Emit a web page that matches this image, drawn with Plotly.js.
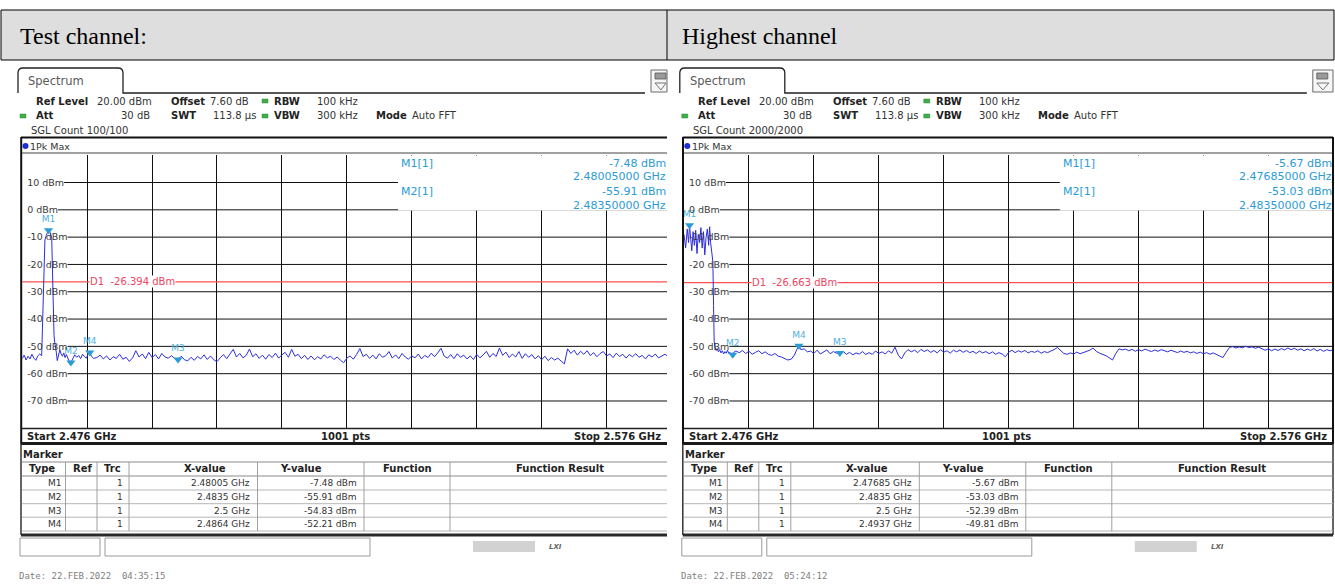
<!DOCTYPE html>
<html><head><meta charset="utf-8">
<script src="https://cdn.plot.ly/plotly-3.0.1.min.js"></script>
<style>html,body{margin:0;padding:0;background:#fff;overflow:hidden}#chart{width:1335px;height:585px}</style>
</head><body><div id="chart"></div>
<script>
const W = 1335, H = 585;
const FONT = 'DejaVu Sans, Verdana, sans-serif';
const MONO = 'DejaVu Sans Mono, monospace';
const SERIF = 'Liberation Serif, Times New Roman, serif';

// ---------- texts / settings ----------
const headerTitles = ["Test channel:", "Highest channel"];
const refLevel = "20.00 dBm", offsetDb = "7.60 dB", rbw = "100 kHz", vbw = "300 kHz";
const att = "30 dB", swt = "113.8 µs", sweepMode = "Auto FFT";
const sglCounts = ["100/100", "2000/2000"];
const startGHz = 2.476, stopGHz = 2.576, sweepPts = 1001;
const yTicks = [10, 0, -10, -20, -30, -40, -50, -60, -70];
const yRange = [-80, 20];
const xGridGHz = [2.486, 2.496, 2.506, 2.516, 2.526, 2.536, 2.546, 2.556, 2.566];
const d1Levels = [-26.394, -26.663];
const dates = ["Date: 22.FEB.2022\u00a0\u00a004:35:15", "Date: 22.FEB.2022\u00a0\u00a005:24:12"];
const tableHeaders = ["Type", "Ref", "Trc", "X-value", "Y-value", "Function", "Function Result"];

// ---------- markers ----------
const markerNames = ["M1", "M2", "M3", "M4"];
const leftMarkerGHz = [2.48005, 2.4835, 2.5, 2.4864];
const leftMarkerDbm = [-7.48, -55.91, -54.83, -52.21];
const rightMarkerGHz = [2.47685, 2.4835, 2.5, 2.4937];
const rightMarkerDbm = [-5.67, -53.03, -52.39, -49.81];

// ---------- trace: Test channel (left) ----------
const leftPeakMHz = [2476.0,2476.3,2476.6,2476.9,2477.2,2477.5,2477.8,2478.1,2478.4,2478.7,2479.0,2479.1,2479.2,2479.35,2479.5,2479.7,2479.9,2480.05,2480.2,2480.4,2480.55,2480.65,2480.72,2480.8,2480.9,2481.0,2481.1,2481.25,2481.4,2481.6,2481.8,2482.0,2482.2,2482.4,2482.6,2482.8,2483.0,2483.2,2483.5,2483.8,2484.1,2484.4,2484.7,2485.0,2485.3,2485.6,2485.9,2486.1,2486.4,2486.7,2487.0];
const leftPeakDbm = [-54.5,-53.2,-55.0,-53.6,-54.6,-52.9,-54.3,-55.1,-53.5,-52.8,-53.4,-45.0,-30.0,-16.0,-11.0,-9.4,-8.1,-7.48,-7.9,-9.0,-10.6,-20.0,-35.0,-44.6,-46.0,-48.4,-49.6,-52.1,-55.2,-53.4,-51.3,-52.8,-53.6,-52.4,-54.1,-53.0,-54.6,-55.3,-55.91,-54.2,-53.1,-54.0,-53.3,-54.5,-52.9,-53.8,-54.3,-53.0,-52.21,-53.7,-54.4];
const leftFloorMHz = [2487.5,2488,2488.5,2489,2489.5,2490,2490.5,2491,2491.5,2492,
2492.5,2493,2493.5,2494,2494.5,2495,2495.5,2496,2496.5,2497,
2497.5,2498,2498.5,2499,2499.5,2500,2500.5,2501,2501.5,2502,
2502.5,2503,2503.5,2504,2504.5,2505,2505.5,2506,2506.5,2507,
2507.5,2508,2508.5,2509,2509.5,2510,2510.5,2511,2511.5,2512,
2512.5,2513,2513.5,2514,2514.5,2515,2515.5,2516,2516.5,2517,
2517.5,2518,2518.5,2519,2519.5,2520,2520.5,2521,2521.5,2522,
2522.5,2523,2523.5,2524,2524.5,2525,2525.5,2526,2526.5,2527,
2527.5,2528,2528.5,2529,2529.5,2530,2530.5,2531,2531.5,2532,
2532.5,2533,2533.5,2534,2534.5,2535,2535.5,2536,2536.5,2537,
2537.5,2538,2538.5,2539,2539.5,2540,2540.5,2541,2541.5,2542,
2542.5,2543,2543.5,2544,2544.5,2545,2545.5,2546,2546.5,2547,
2547.5,2548,2548.5,2549,2549.5,2550,2550.5,2551,2551.5,2552,
2552.5,2553,2553.5,2554,2554.5,2555,2555.5,2556,2556.5,2557,
2557.5,2558,2558.5,2559,2559.5,2560,2560.5,2561,2561.5,2562,
2562.5,2563,2563.5,2564,2564.5,2565,2565.5,2566,2566.5,2567,
2567.5,2568,2568.5,2569,2569.5,2570,2570.5,2571,2571.5,2572,
2572.5,2573,2573.5,2574,2574.5,2575,2575.5,2576];
const leftFloorDbm = [-54.1,-53.2,-54.6,-53.5,-55.0,-53.8,-54.4,-52.9,-54.7,-54.0,
-55.5,-54.2,-51.6,-53.9,-52.8,-54.5,-52.2,-54.1,-53.0,-54.6,
-52.6,-53.9,-54.3,-53.4,-54.5,-54.83,-53.6,-54.9,-55.3,-54.0,
-55.1,-53.7,-54.6,-53.1,-54.8,-53.5,-54.9,-55.6,-54.2,-53.0,
-54.5,-52.8,-51.1,-53.9,-52.6,-54.2,-53.3,-51.0,-53.8,-52.7,
-54.4,-53.2,-54.7,-53.0,-54.1,-52.5,-54.3,-53.1,-52.2,-54.0,
-51.1,-53.6,-52.9,-54.5,-53.3,-54.8,-53.5,-54.9,-53.8,-54.6,
-53.1,-54.2,-53.6,-54.8,-53.9,-55.0,-56.0,-54.3,-53.5,-54.7,
-53.0,-50.8,-53.7,-52.9,-54.4,-53.2,-54.6,-52.7,-54.0,-53.4,
-51.9,-54.3,-53.1,-54.5,-52.6,-53.9,-54.7,-53.5,-54.2,-52.8,
-54.6,-53.3,-54.1,-52.5,-53.8,-52.4,-50.7,-53.6,-54.3,-53.0,
-54.5,-52.7,-54.0,-53.2,-54.6,-53.5,-54.8,-52.9,-54.2,-53.1,
-51.8,-54.0,-52.6,-53.7,-50.6,-53.3,-52.1,-54.1,-52.8,-53.9,
-51.9,-54.4,-52.7,-54.0,-53.0,-54.6,-53.4,-54.9,-53.6,-55.2,
-54.1,-55.0,-54.3,-55.4,-56.4,-50.9,-52.6,-51.4,-53.2,-51.8,
-52.9,-51.6,-53.4,-52.3,-53.8,-52.6,-51.9,-53.5,-52.8,-54.1,
-52.5,-53.7,-52.9,-54.3,-53.0,-53.8,-52.7,-54.0,-53.3,-54.6,
-53.1,-53.9,-52.8,-54.2,-53.5,-52.9,-53.7,-53.4];

// ---------- trace: Highest channel (right) ----------
const rightPeakMHz = [2476.0,2476.25,2476.5,2476.7,2476.85,2477.0,2477.2,2477.4,2477.6,2477.8,2478.0,2478.2,2478.4,2478.6,2478.8,2479.0,2479.2,2479.4,2479.6,2479.8,2479.95,2480.1,2480.3,2480.45,2480.55,2480.65,2480.8,2480.95,2481.1,2481.3,2481.5,2481.7,2481.9,2482.1,2482.3,2482.5,2482.7,2482.9,2483.1,2483.3,2483.5,2483.7,2484.0,2484.5,2485.0,2485.5,2486.0,2486.5,2487.0,2487.5,2488.0,2488.5,2489.0,2489.5,2490.0,2490.5,2491.0,2491.5,2492.0,2492.5,2493.0,2493.4,2493.7,2494.0,2494.5,2495.0];
const rightPeakDbm = [-9.0,-14.0,-7.0,-12.0,-5.67,-10.0,-15.0,-8.0,-13.0,-7.5,-16.0,-9.0,-12.0,-6.5,-14.0,-8.0,-16.5,-10.0,-7.0,-13.0,-6.2,-12.0,-17.0,-19.0,-35.0,-48.3,-50.5,-51.5,-50.8,-52.0,-51.2,-52.4,-51.6,-52.8,-51.9,-52.5,-51.4,-52.6,-52.2,-52.9,-53.03,-52.1,-51.7,-52.3,-51.5,-52.6,-51.8,-52.9,-52.2,-51.6,-52.7,-52.0,-52.9,-53.3,-52.6,-53.6,-53.9,-54.4,-55.0,-54.7,-53.2,-51.0,-49.81,-51.2,-50.9,-52.0];
const rightFloorMHz = [2495.5,2496,2496.5,2497,2497.5,2498,2498.5,2499,2499.5,2500,
2500.5,2501,2501.5,2502,2502.5,2503,2503.5,2504,2504.5,2505,
2505.5,2506,2506.5,2507,2507.5,2508,2508.5,2509,2509.5,2510,
2510.5,2511,2511.5,2512,2512.5,2513,2513.5,2514,2514.5,2515,
2515.5,2516,2516.5,2517,2517.5,2518,2518.5,2519,2519.5,2520,
2520.5,2521,2521.5,2522,2522.5,2523,2523.5,2524,2524.5,2525,
2525.5,2526,2526.5,2527,2527.5,2528,2528.5,2529,2529.5,2530,
2530.5,2531,2531.5,2532,2532.5,2533,2533.5,2534,2534.5,2535,
2535.5,2536,2536.5,2537,2537.5,2538,2538.5,2539,2539.5,2540,
2540.5,2541,2541.5,2542,2542.5,2543,2543.5,2544,2544.5,2545,
2545.5,2546,2546.5,2547,2547.5,2548,2548.5,2549,2549.5,2550,
2550.5,2551,2551.5,2552,2552.5,2553,2553.5,2554,2554.5,2555,
2555.5,2556,2556.5,2557,2557.5,2558,2558.5,2559,2559.5,2560,
2560.5,2561,2561.5,2562,2562.5,2563,2563.5,2564,2564.5,2565,
2565.5,2566,2566.5,2567,2567.5,2568,2568.5,2569,2569.5,2570,
2570.5,2571,2571.5,2572,2572.5,2573,2573.5,2574,2574.5,2575,
2575.5,2576];
const rightFloorDbm = [-51.7,-52.6,-51.4,-52.8,-52.1,-51.3,-52.7,-51.9,-52.5,-52.39,
-51.8,-52.9,-52.2,-53.1,-52.4,-52.8,-51.9,-53.0,-52.3,-52.9,
-51.7,-52.6,-52.0,-52.8,-51.6,-52.5,-50.3,-53.2,-54.6,-52.4,
-51.2,-52.0,-51.4,-52.3,-51.1,-51.9,-51.3,-52.2,-51.5,-52.4,
-51.2,-52.1,-51.6,-52.5,-51.4,-52.0,-51.3,-52.2,-51.5,-52.3,
-51.8,-52.6,-51.7,-52.4,-51.9,-52.7,-52.0,-52.9,-52.3,-52.8,
-53.8,-52.2,-51.4,-52.3,-51.6,-52.1,-51.5,-52.4,-51.8,-52.2,
-51.6,-52.5,-51.9,-52.3,-51.7,-51.2,-50.4,-51.6,-52.6,-52.9,
-52.4,-52.8,-52.1,-52.7,-52.3,-51.9,-51.4,-50.6,-51.8,-52.5,
-52.9,-53.4,-54.2,-55.0,-52.6,-50.9,-51.3,-51.0,-51.6,-51.1,
-51.8,-51.2,-51.7,-51.0,-51.5,-51.9,-51.3,-51.8,-51.2,-51.6,
-52.0,-51.4,-51.9,-52.3,-51.7,-52.2,-51.8,-52.4,-52.0,-52.6,
-52.1,-52.7,-52.3,-52.9,-52.4,-53.0,-53.4,-54.1,-52.2,-50.4,
-50.1,-50.6,-50.2,-50.5,-50.0,-50.4,-50.2,-50.7,-50.3,-51.0,
-51.4,-50.9,-51.6,-51.0,-51.5,-50.8,-51.3,-50.6,-51.2,-50.7,
-51.4,-50.9,-51.6,-51.0,-51.5,-50.8,-51.7,-51.1,-51.8,-51.2,
-51.6,-51.3];

// ---------- helpers ----------
const px = x => x / W, py = y => 1 - y / H;
const shapes = [], annotations = [];
const ctx = document.createElement('canvas').getContext('2d');
function textW(t, size) { ctx.font = size + 'px "DejaVu Sans"'; return ctx.measureText(t).width; }
function T(x, y, text, size, color, anchor, family, extra) {
  annotations.push(Object.assign({xref: 'paper', yref: 'paper', x: px(x), y: py(y), text: text, showarrow: false,
    xanchor: anchor || 'left', yanchor: 'middle', borderpad: 0,
    font: {family: family || FONT, size: size || 10, color: color || '#222'}}, extra || {}));
}
function R(x0, y0, x1, y1, fill, lc, lw, extra) {
  shapes.push(Object.assign({type: 'rect', xref: 'paper', yref: 'paper', x0: px(x0), x1: px(x1), y0: py(y1), y1: py(y0),
    fillcolor: fill || 'rgba(0,0,0,0)', line: {color: lc || 'rgba(0,0,0,0)', width: lw || 0}, layer: 'above'}, extra || {}));
}
function L(x0, y0, x1, y1, color, w, extra) {
  shapes.push(Object.assign({type: 'line', xref: 'paper', yref: 'paper', x0: px(x0), x1: px(x1), y0: py(y0), y1: py(y1),
    line: {color: color, width: w}, layer: 'above'}, extra || {}));
}
function Path(cmds, color, w, fill) {
  const d = cmds.map(c => c[0] + (c.length > 1 ? px(c[1]) + ',' + py(c[2]) : '')).join(' ');
  shapes.push({type: 'path', xref: 'paper', yref: 'paper', path: d, line: {color: color, width: w}, fillcolor: fill || 'rgba(0,0,0,0)', layer: 'above'});
}

const fullSpanPx = 649.3;
const panels = [
  {dx: 0, plotL: 22.2, visR: 667, edge: 667, xa: 'x', ya: 'y', mGHz: leftMarkerGHz, mDbm: leftMarkerDbm,
   peakMHz: leftPeakMHz, peakDbm: leftPeakDbm, floorMHz: leftFloorMHz, floorDbm: leftFloorDbm},
  {dx: 661.8, plotL: 684, visR: 1333.3, edge: 1333, xa: 'x2', ya: 'y2', mGHz: rightMarkerGHz, mDbm: rightMarkerDbm,
   peakMHz: rightPeakMHz, peakDbm: rightPeakDbm, floorMHz: rightFloorMHz, floorDbm: rightFloorDbm}
];

// header table
R(1, 10, 1334, 60, '#dedede', '#000', 1, {layer: 'below'});
L(667, 10, 667, 60, '#000', 1);

const BLUE_M = '#2a9bd6';
const traces = [];
const layout = {width: W, height: H, margin: {l: 0, r: 0, t: 0, b: 0, pad: 0}, paper_bgcolor: '#fff', plot_bgcolor: '#fff',
  showlegend: false, shapes: shapes, annotations: annotations, hovermode: false};

panels.forEach((p, i) => {
  const d = p.dx, E = p.edge;
  const visMax = startGHz + (stopGHz - startGHz) * (p.visR - p.plotL) / fullSpanPx;
  const sfx = i === 0 ? '' : '2';
  layout['xaxis' + sfx] = {domain: [px(p.plotL), px(p.visR)], range: [startGHz, visMax], anchor: p.ya,
    tickvals: xGridGHz, showticklabels: false, ticks: '', showgrid: true, gridcolor: '#111', gridwidth: 1,
    zeroline: false, showline: false, fixedrange: true};
  layout['yaxis' + sfx] = {domain: [py(428.3), py(155.2)], range: yRange, anchor: p.xa,
    tickvals: yTicks, ticktext: yTicks.map(v => v + ' dBm'), ticklabelposition: 'inside', ticks: '',
    ticklabelstandoff: 2, showgrid: false, zeroline: false, showline: false, fixedrange: true,
    tickfont: {family: FONT, size: 9.5, color: '#3a3a3a'}};

  // horizontal grid lines starting after the level labels
  yTicks.forEach(v => {
    const x0 = p.plotL + 5 + textW(v + ' dBm', 9.5);
    shapes.push({type: 'line', xref: 'paper', yref: p.ya, x0: px(x0), x1: px(p.visR), y0: v, y1: v,
      line: {color: '#111', width: 1}, layer: 'below'});
  });

  // D1 display line (drawn as a line over the sweep span, above the grid)
  traces.push({x: [startGHz, stopGHz], y: [d1Levels[i], d1Levels[i]], type: 'scatter', mode: 'lines',
    xaxis: p.xa, yaxis: p.ya, line: {color: '#ff5050', width: 1.2}, hoverinfo: 'skip'});
  // trace
  const fx = p.peakMHz.concat(p.floorMHz).map(m => m / 1000);
  const fy = p.peakDbm.concat(p.floorDbm);
  traces.push({x: fx, y: fy, type: 'scatter', mode: 'lines', xaxis: p.xa, yaxis: p.ya,
    line: {color: '#2d2de0', width: 1}, hoverinfo: 'skip'});
  traces.push({x: p.mGHz, y: p.mDbm, type: 'scatter', mode: 'markers+text', xaxis: p.xa, yaxis: p.ya,
    text: markerNames, textposition: 'top center', cliponaxis: false,
    marker: {symbol: 'triangle-down', size: 8, color: BLUE_M},
    textfont: {family: FONT, size: 9, color: '#4fb0e0'}, hoverinfo: 'skip'});

  annotations.push({xref: p.xa, yref: p.ya, x: xGridGHz[0] + 0.0003, y: d1Levels[i], xanchor: 'left', yanchor: 'middle',
    text: 'D1\u00a0\u00a0' + d1Levels[i].toFixed(3) + ' dBm', showarrow: false, bgcolor: '#fff', borderpad: 0,
    font: {family: FONT, size: 10, color: '#f0455f'}});

  // header title
  T(19 + d, 36, headerTitles[i], 24, '#000', 'left', SERIF);

  // tab
  Path([['M', 18 + d, 93], ['L', 18 + d, 73], ['Q', 18 + d, 68], ['', 23 + d, 68], ['L', 118 + d, 68], ['Q', 123 + d, 68], ['', 123 + d, 73], ['L', 123 + d, 93], ['L', 645 + d, 93]], '#222', 1.3);
  T(27 + d, 81, 'Spectrum', 11.5, '#5a5a5a');
  // icon
  const ix1 = Math.min(672 + d, E);
  R(651 + d, 70, ix1, 92, '#f6f6f6', '#6a6a6a', 1);
  R(655 + d, 73, Math.min(666 + d, E - 1), 79, '#9a9a9a', '#555', 0.8);
  Path([['M', 655 + d, 83], ['L', Math.min(667 + d, E - 1), 83], ['L', 661 + d, 90], ['Z']], '#555', 0.8);

  // settings text
  T(35 + d, 101, '<b>Ref Level</b>', 10); T(96 + d, 101, refLevel, 10, '#333');
  T(170 + d, 101, '<b>Offset</b>', 10); T(209 + d, 101, offsetDb, 10, '#333');
  T(273 + d, 101, '<b>RBW</b>', 10); T(316 + d, 101, rbw, 10, '#333');
  T(35 + d, 116, '<b>Att</b>', 10); T(151 + d, 116, att, 10, '#333', 'right');
  T(170 + d, 116, '<b>SWT</b>', 10); T(212 + d, 116, swt, 10, '#333');
  T(273 + d, 116, '<b>VBW</b>', 10); T(316 + d, 116, vbw, 10, '#333');
  T(375 + d, 116, '<b>Mode</b>', 10); T(411 + d, 116, sweepMode, 10, '#333');
  T(30 + d, 130, 'SGL Count ' + sglCounts[i], 10, '#333');
  [[265, 101], [23, 116], [265, 116]].forEach(g => R(g[0] - 3 + d, g[1] - 2, g[0] + 3 + d, g[1] + 2, '#3fae49', '#2e8a38', 0.5));

  // diagram frame
  L(21.2 + d, 137, 21.2 + d, 444, '#111', 2);
  L(21 + d, 137.5, E, 137.5, '#111', 2);
  L(22 + d, 153, E, 153, '#444', 1);
  shapes.push({type: 'circle', xref: 'paper', yref: 'paper', x0: px(22.5 + d), x1: px(28.5 + d), y0: py(149), y1: py(143),
    fillcolor: '#1b2fd6', line: {width: 0}, layer: 'above'});
  T(29 + d, 146, '1Pk Max', 9.5, '#333');
  L(22 + d, 428.5, E, 428.5, '#222', 1.5);
  L(21 + d, 443.5, E, 443.5, '#1a1a1a', 3);
  if (i === 1) { L(E, 137, E, 444, '#111', 2); }
  T(26 + d, 436, '<b>Start ' + startGHz.toFixed(3) + ' GHz</b>', 10);
  T(345 + d, 436, '<b>' + sweepPts + ' pts</b>', 10, '#222', 'center');
  T(E - 5, 436, '<b>Stop ' + stopGHz.toFixed(3) + ' GHz</b>', 10, '#222', 'right');

  // marker info box (top right of the diagram)
  R(398 + d, 155.5, E - (i === 1 ? 1.2 : 0), 210.6, '#fff');
  T(400 + d, 163, markerNames[0] + '[1]', 11, BLUE_M);
  T(E, 163, p.mDbm[0].toFixed(2) + ' dBm', 11, BLUE_M, 'right');
  T(E, 176, p.mGHz[0].toFixed(8) + ' GHz', 11, BLUE_M, 'right');
  T(400 + d, 191.5, markerNames[1] + '[1]', 11, BLUE_M);
  T(E, 191.5, p.mDbm[1].toFixed(2) + ' dBm', 11, BLUE_M, 'right');
  T(E, 205, p.mGHz[1].toFixed(8) + ' GHz', 11, BLUE_M, 'right');

  // marker table
  L(21 + d, 444, 21 + d, 535, '#333', 1.5);
  if (i === 1) { L(E, 444, E, 535, '#333', 1.5); }
  L(21 + d, 535, E, 535, '#2a2a2a', 3);
  T(22 + d, 454, '<b>Marker</b>', 10);
  const rowY = [483.5, 497, 510.5, 524];
  const hLines = [462, 476, 490, 503.7, 517.2, 531];
  hLines.forEach((y, k) => L(22 + d, y, E, y, k < 2 ? '#8a8a8a' : '#b5b5b5', 1));
  [65.5, 97, 129, 257.5, 364, 450].forEach(x => L(x + d, 462, x + d, 531, '#a0a0a0', 1));
  const hdrX = [42, 82, 112.5, 205, 301, 407, 560];
  tableHeaders.forEach((h, k) => T(hdrX[k] + d, 468.8, '<b>' + h + '</b>', 10, '#222', 'center'));
  markerNames.forEach((m, k) => {
    T(62.5 + d, rowY[k], m, 9, '#333', 'right');
    T(124 + d, rowY[k], '1', 9, '#333', 'right');
    T(251 + d, rowY[k], String(p.mGHz[k]) + ' GHz', 9, '#333', 'right');
    T(358 + d, rowY[k], p.mDbm[k].toFixed(2) + ' dBm', 9, '#333', 'right');
  });

  // soft keys, status, date
  R(20 + d, 538, 100 + d, 556, '#fff', '#9a9a9a', 1);
  R(105 + d, 538, 370 + d, 556, '#fff', '#9a9a9a', 1);
  R(473 + d, 541, 535 + d, 552, '#d2d2d2');
  T(548 + d, 547, '<i><b>LXI</b></i>', 7, '#666');
  T(18 + d, 576, dates[i], 9, '#808080', 'left', MONO);
});

Plotly.newPlot('chart', traces, layout, {staticPlot: true, displayModeBar: false});
</script></body></html>
